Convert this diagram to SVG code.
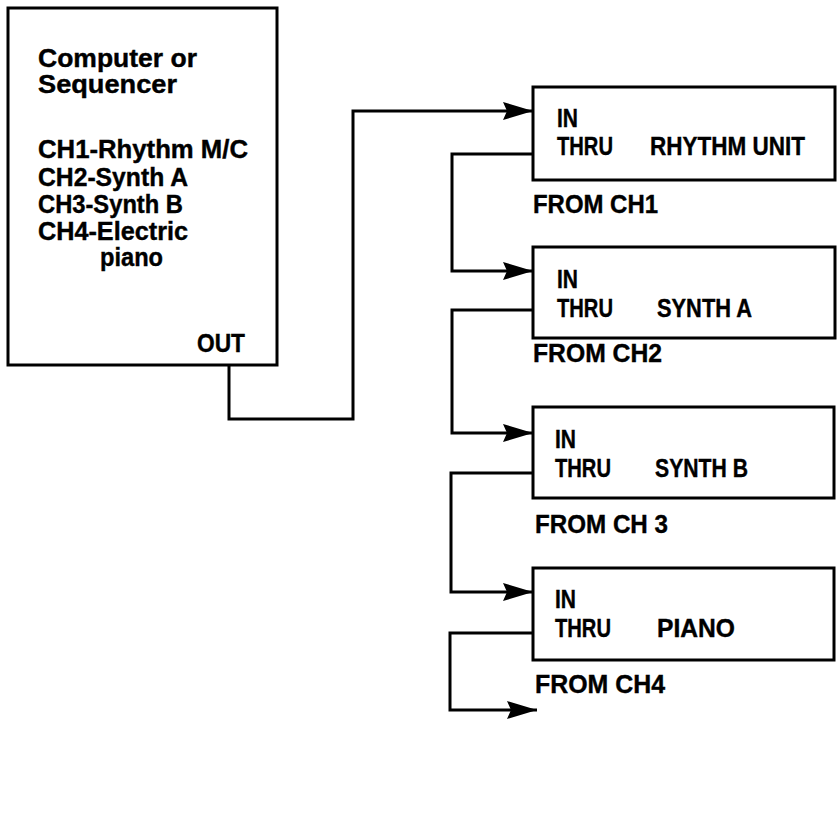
<svg xmlns="http://www.w3.org/2000/svg" width="839" height="829" viewBox="0 0 839 829">
<defs>
<style>
.box{fill:#fff;stroke:#000;stroke-width:3}
.wire{fill:none;stroke:#000;stroke-width:3;stroke-linejoin:miter}
text{font-family:"Liberation Sans",Arial,sans-serif;font-weight:bold;fill:#000;stroke:#000;stroke-width:0.4;font-size:26px}
.c{font-size:25px}
</style>
<marker id="arr" markerUnits="userSpaceOnUse" markerWidth="32" markerHeight="22" viewBox="0 0 32 22" refX="31" refY="11" orient="auto">
<path d="M1,2 L31,11 L1,20 L5,11 Z" fill="#000"/>
</marker>
</defs>
<rect width="839" height="829" fill="#fff"/>

<g id="connectors">
<path class="wire" d="M229,365 V419 H353 V111 H533" marker-end="url(#arr)"/>
<path class="wire" d="M533,154 H452 V271 H533" marker-end="url(#arr)"/>
<path class="wire" d="M533,310 H452 V433 H533" marker-end="url(#arr)"/>
<path class="wire" d="M533,473 H451 V592 H533" marker-end="url(#arr)"/>
<path class="wire" d="M533,633 H450 V710 H537" marker-end="url(#arr)"/>
</g>

<g id="computer">
<rect class="box" x="8" y="8" width="269" height="357"/>
<text class="c" x="38" y="67" textLength="159" lengthAdjust="spacingAndGlyphs">Computer or</text>
<text class="c" x="38" y="93" textLength="139" lengthAdjust="spacingAndGlyphs">Sequencer</text>
<text class="c" x="38" y="158" textLength="210" lengthAdjust="spacingAndGlyphs">CH1-Rhythm M/C</text>
<text class="c" x="38" y="186" textLength="150" lengthAdjust="spacingAndGlyphs">CH2-Synth A</text>
<text class="c" x="38" y="213" textLength="145" lengthAdjust="spacingAndGlyphs">CH3-Synth B</text>
<text class="c" x="38" y="240" textLength="150" lengthAdjust="spacingAndGlyphs">CH4-Electric</text>
<text class="c" x="100" y="266" textLength="63" lengthAdjust="spacingAndGlyphs">piano</text>
<text class="c" x="197" y="352" textLength="48" lengthAdjust="spacingAndGlyphs">OUT</text>
</g>

<g id="rhythm">
<rect class="box" x="533" y="87" width="302" height="93"/>
<text x="557" y="127" textLength="21" lengthAdjust="spacingAndGlyphs">IN</text>
<text x="557" y="155" textLength="56" lengthAdjust="spacingAndGlyphs">THRU</text>
<text x="650" y="155" textLength="155" lengthAdjust="spacingAndGlyphs">RHYTHM UNIT</text>
<text x="533" y="213" textLength="125" lengthAdjust="spacingAndGlyphs">FROM CH1</text>
</g>

<g id="synthA">
<rect class="box" x="533" y="247" width="302" height="91"/>
<text x="557" y="288" textLength="21" lengthAdjust="spacingAndGlyphs">IN</text>
<text x="557" y="317" textLength="56" lengthAdjust="spacingAndGlyphs">THRU</text>
<text x="657" y="317" textLength="95" lengthAdjust="spacingAndGlyphs">SYNTH A</text>
<text x="533" y="362" textLength="129" lengthAdjust="spacingAndGlyphs">FROM CH2</text>
</g>

<g id="synthB">
<rect class="box" x="533" y="407" width="301" height="91"/>
<text x="555" y="448" textLength="21" lengthAdjust="spacingAndGlyphs">IN</text>
<text x="555" y="477" textLength="56" lengthAdjust="spacingAndGlyphs">THRU</text>
<text x="655" y="477" textLength="93" lengthAdjust="spacingAndGlyphs">SYNTH B</text>
<text x="535" y="533" textLength="133" lengthAdjust="spacingAndGlyphs">FROM CH 3</text>
</g>

<g id="piano">
<rect class="box" x="533" y="568" width="301" height="92"/>
<text x="555" y="608" textLength="21" lengthAdjust="spacingAndGlyphs">IN</text>
<text x="555" y="637" textLength="56" lengthAdjust="spacingAndGlyphs">THRU</text>
<text x="657" y="637" textLength="78" lengthAdjust="spacingAndGlyphs">PIANO</text>
<text x="535" y="693" textLength="130" lengthAdjust="spacingAndGlyphs">FROM CH4</text>
</g>
</svg>
